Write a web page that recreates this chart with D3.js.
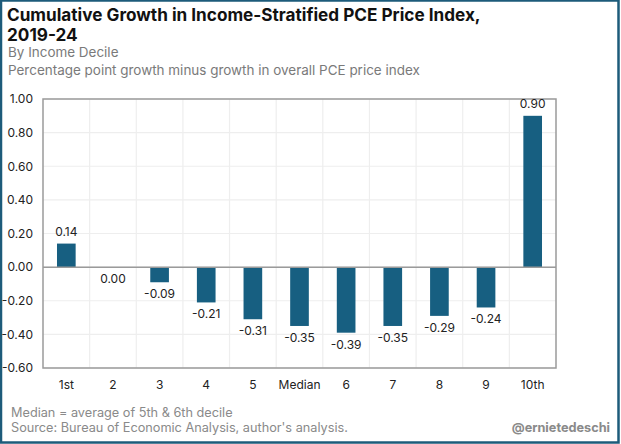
<!DOCTYPE html>
<html>
<head>
<meta charset="utf-8">
<script src="https://cdn.jsdelivr.net/npm/d3@7"></script>
<style>
  body { margin: 0; background: #fff; }
  svg { display: block; font-family: Inter, Roboto, sans-serif; }
</style>
</head>
<body>
<svg id="chart" width="621" height="444"></svg>
<script>
// categories and values
var deciles = ["1st", "2", "3", "4", "5", "Median", "6", "7", "8", "9", "10th"];
var growth = [0.14, 0.00, -0.09, -0.21, -0.31, -0.35, -0.39, -0.35, -0.29, -0.24, 0.90];
var yTicks = [-0.6, -0.4, -0.2, 0, 0.2, 0.4, 0.6, 0.8, 1.0];

var data = deciles.map(function(d, i) { return {name: d, value: growth[i]}; });

var W = 621, H = 444;
var margin = {top: 99, right: 65, bottom: 76, left: 43};
var width = W - margin.left - margin.right,
    height = H - margin.top - margin.bottom;

var svg = d3.select("#chart");

// shrink/grow a text's font size so it spans the width seen in the picture
function fitWidth(sel, target) {
  var fs = parseFloat(sel.attr("font-size"));
  var w = sel.node().getComputedTextLength();
  if (w > 0) sel.attr("font-size", (fs * target / w).toFixed(2));
  return sel;
}

// outer frame
svg.append("rect")
  .attr("x", 1).attr("y", 0.5)
  .attr("width", W - 3.5).attr("height", H - 2)
  .attr("fill", "none")
  .attr("stroke", "#1d5b7a")
  .attr("stroke-width", 2.5);

// titles
var t1 = svg.append("text").attr("x", 7).attr("y", 21)
  .attr("font-size", 18).attr("font-weight", 700).attr("fill", "#111")
  .text("Cumulative Growth in Income-Stratified PCE Price Index,");
fitWidth(t1, 474);
svg.append("text").attr("x", 7).attr("y", 41)
  .attr("font-size", t1.attr("font-size")).attr("font-weight", 700).attr("fill", "#111")
  .text("2019-24");
var s1 = svg.append("text").attr("x", 8).attr("y", 57)
  .attr("font-size", 13).attr("fill", "#7a7a7a")
  .text("Percentage point growth minus growth in overall PCE price index");
fitWidth(s1, 412);
s1.attr("y", 75);
svg.append("text").attr("x", 8).attr("y", 57)
  .attr("font-size", s1.attr("font-size")).attr("fill", "#7a7a7a")
  .text("By Income Decile");

var g = svg.append("g")
  .attr("transform", "translate(" + margin.left + "," + margin.top + ")");

var x = d3.scaleBand().domain(deciles).range([0, width]).paddingInner(0.6).paddingOuter(0.3);
var xb = d3.scaleBand().domain(deciles).range([0, width]);
var y = d3.scaleLinear().domain([-0.6, 1.0]).range([height, 0]);

// horizontal gridlines
g.selectAll(".hgrid")
  .data(yTicks)
  .enter().append("line")
  .attr("x1", 0).attr("x2", width)
  .attr("y1", function(d) { return y(d); })
  .attr("y2", function(d) { return y(d); })
  .attr("stroke", "#eeeeee").attr("stroke-width", 1.2);

// vertical gridlines at band edges
g.selectAll(".vgrid")
  .data(deciles.slice(1))
  .enter().append("line")
  .attr("x1", function(d) { return xb(d); })
  .attr("x2", function(d) { return xb(d); })
  .attr("y1", 0).attr("y2", height)
  .attr("stroke", "#eeeeee").attr("stroke-width", 1.2);

// bars
g.selectAll(".bar")
  .data(data)
  .enter().append("rect")
  .attr("class", "bar")
  .attr("x", function(d) { return x(d.name); })
  .attr("width", x.bandwidth())
  .attr("y", function(d) { return y(Math.max(0, d.value)); })
  .attr("height", function(d) { return Math.abs(y(d.value) - y(0)); })
  .attr("fill", "#175f81");

// zero line
g.append("line")
  .attr("x1", 0).attr("x2", width)
  .attr("y1", y(0)).attr("y2", y(0))
  .attr("stroke", "#9a9a9a").attr("stroke-width", 1.5);

// plot border
g.append("rect")
  .attr("width", width).attr("height", height)
  .attr("fill", "none")
  .attr("stroke", "#9a9a9a").attr("stroke-width", 1.5);

// value labels
g.selectAll(".val")
  .data(data)
  .enter().append("text")
  .attr("x", function(d) { return x(d.name) + x.bandwidth() / 2; })
  .attr("y", function(d) { return d.value > 0 ? y(d.value) - 8 : y(d.value) + 16; })
  .attr("text-anchor", "middle")
  .attr("font-size", 12).attr("fill", "#222")
  .text(function(d) { return d.value.toFixed(2); });

// y axis
var yAxis = g.append("g")
  .call(d3.axisLeft(y).tickValues(yTicks).tickSize(0).tickPadding(10)
    .tickFormat(function(d) { return d3.format(".2f")(d).replace("−", "-"); }));
yAxis.select(".domain").remove();
yAxis.selectAll("text").attr("font-size", 12).attr("fill", "#222")
  .attr("font-family", "Inter, Roboto, sans-serif");

// x axis
var xAxis = g.append("g")
  .attr("transform", "translate(0," + height + ")")
  .call(d3.axisBottom(xb).tickSize(0).tickPadding(12));
xAxis.select(".domain").remove();
xAxis.selectAll("text").attr("font-size", 12).attr("fill", "#222")
  .attr("font-family", "Inter, Roboto, sans-serif");

// footer
var f2 = svg.append("text").attr("x", 11).attr("y", 432)
  .attr("font-size", 12.5).attr("fill", "#8a8a8a")
  .text("Source: Bureau of Economic Analysis, author's analysis.");
fitWidth(f2, 337);
svg.append("text").attr("x", 11).attr("y", 417)
  .attr("font-size", f2.attr("font-size")).attr("fill", "#8a8a8a")
  .text("Median = average of 5th & 6th decile");
svg.append("text").attr("x", 610).attr("y", 432)
  .attr("text-anchor", "end")
  .attr("font-size", f2.attr("font-size")).attr("font-weight", 700).attr("fill", "#8a8a8a")
  .text("@ernietedeschi");
</script>
</body>
</html>
